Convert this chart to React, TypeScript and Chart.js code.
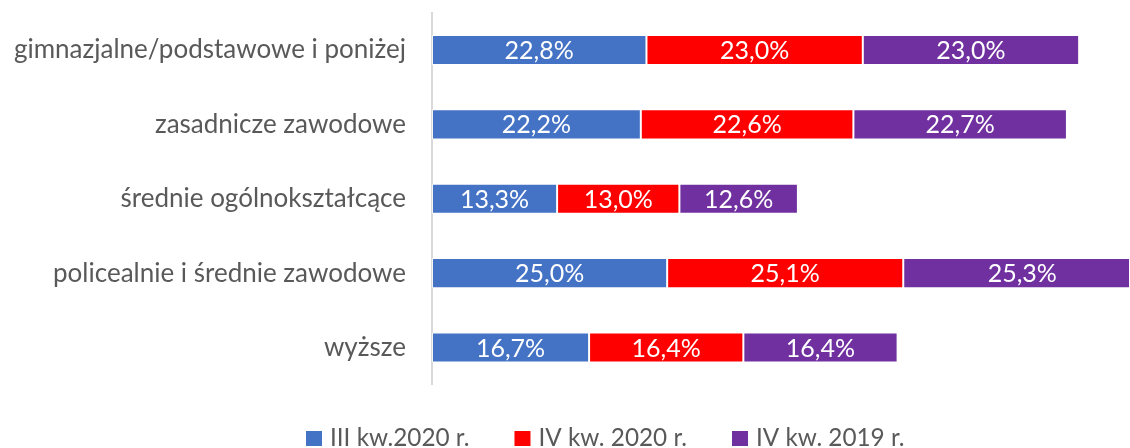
import React, { useEffect, useRef } from "react";
import { Chart, registerables } from "chart.js";

Chart.register(...registerables);

const categories = [
  "gimnazjalne/podstawowe i poniżej",
  "zasadnicze zawodowe",
  "średnie ogólnokształcące",
  "policealnie i średnie zawodowe",
  "wyższe",
];
const seriesNames = ["III kw.2020 r.", "IV kw. 2020 r.", "IV kw. 2019 r."];
const seriesColors = ["#4472C4", "#FF0000", "#7030A0"];
const q3_2020 = [22.8, 22.2, 13.3, 25.0, 16.7];
const q4_2020 = [23.0, 22.6, 13.0, 25.1, 16.4];
const q4_2019 = [23.0, 22.7, 12.6, 25.3, 16.4];
const seriesValues = [q3_2020, q4_2020, q4_2019];

const FONT = "Lato, 'Noto Sans', sans-serif";

const fmt = (v: number) => v.toFixed(1).replace(".", ",") + "%";

const labelPlugin = {
  id: "barLabels",
  afterDatasetsDraw(chart: any) {
    const ctx = chart.ctx;
    ctx.save();
    ctx.fillStyle = "#ffffff";
    ctx.font = `25px ${FONT}`;
    ctx.textAlign = "center";
    ctx.textBaseline = "middle";
    chart.data.datasets.forEach((ds: any, di: number) => {
      const meta = chart.getDatasetMeta(di);
      meta.data.forEach((bar: any, i: number) => {
        const x = (bar.x + bar.base) / 2;
        ctx.fillText(fmt(ds.data[i]), x, bar.y + 1);
      });
    });
    ctx.restore();
  },
};

const legendPlugin = {
  id: "customLegend",
  afterDraw(chart: any) {
    const ctx = chart.ctx;
    ctx.save();
    ctx.font = `24.3px ${FONT}`;
    ctx.textBaseline = "alphabetic";
    ctx.textAlign = "left";
    let x = 306;
    seriesNames.forEach((name, i) => {
      ctx.fillStyle = seriesColors[i];
      ctx.fillRect(x, 431, 16, 15);
      ctx.fillStyle = "#595959";
      ctx.fillText(name, x + 24, 446);
      x += 24 + ctx.measureText(name).width + 45;
    });
    ctx.restore();
  },
};

export default function App() {
  const ref = useRef<HTMLCanvasElement>(null);
  useEffect(() => {
    if (!ref.current) return;
    const chart = new Chart(ref.current, {
      type: "bar",
      data: {
        labels: categories,
        datasets: seriesValues.map((vals, i) => ({
          label: seriesNames[i],
          data: vals,
          backgroundColor: seriesColors[i],
          borderColor: "rgba(255,255,255,0.7)",
          borderWidth: 1,
          borderSkipped: false,
          barPercentage: 0.405,
          categoryPercentage: 1,
        })),
      },
      options: {
        indexAxis: "y",
        responsive: false,
        animation: false,
        layout: { padding: { top: 12.8, bottom: 63.3, left: 0, right: 1 } },
        plugins: { legend: { display: false }, tooltip: { enabled: false } },
        scales: {
          x: {
            stacked: true,
            display: false,
            min: 0,
            max: 74.1,
          },
          y: {
            stacked: true,
            grid: { display: false, drawTicks: false },
            border: { display: true, color: "#D9D9D9", width: 2 },
            ticks: {
              color: "#595959",
              font: { family: FONT, size: 26 },
              padding: 26,
            },
            afterFit: (scale: any) => {
              scale.width = 432;
              scale.paddingTop = 0;
              scale.paddingBottom = 0;
            },
          },
        },
      },
      plugins: [labelPlugin, legendPlugin],
    });
    return () => chart.destroy();
  }, []);
  return (
    <div style={{ position: "fixed", left: 0, top: 0, width: 1130, height: 448, background: "#fff" }}>
      <canvas ref={ref} width={1130} height={448} style={{ display: "block" }} />
    </div>
  );
}
